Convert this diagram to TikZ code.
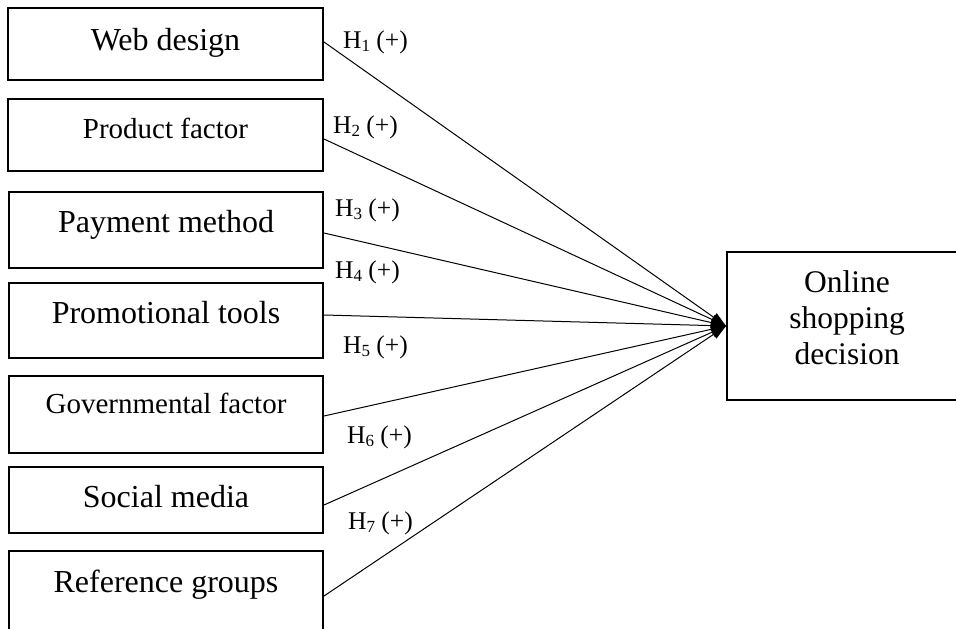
\documentclass[tikz,border=0pt]{standalone}
\usepackage{fontspec}
\setmainfont{Liberation Serif}
\usetikzlibrary{arrows.meta}
% hypothesis label: H with a lowered index, then (+)
\newcommand{\hyp}[1]{H\raisebox{-3pt}{\fontsize{17}{17}\selectfont #1} (+)}
\begin{document}
\begin{tikzpicture}[x=1pt,y=-1pt,
  box/.style={draw, line width=2pt, rectangle, inner sep=0pt},
  lbl/.style={font=\fontsize{32}{36}\selectfont, inner sep=0pt, anchor=base},
  lblsm/.style={lbl, font=\fontsize{29}{33}\selectfont},
  hyplbl/.style={font=\fontsize{25.5}{28}\selectfont, inner sep=0pt, anchor=west},
  link/.style={line width=1pt, -{Triangle[length=15pt,width=10pt]}}]
\useasboundingbox (0,0) rectangle (956,629);
\clip (0,0) rectangle (956,629);

% factor boxes
\node[box, minimum width=315pt, minimum height=72pt] (b1) at (165.5,44) {};
\node[box, minimum width=315pt, minimum height=72pt] (b2) at (165.5,135) {};
\node[box, minimum width=314pt, minimum height=76pt] (b3) at (166,230) {};
\node[box, minimum width=314pt, minimum height=75pt] (b4) at (166,320.5) {};
\node[box, minimum width=314pt, minimum height=77pt] (b5) at (166,414.5) {};
\node[box, minimum width=314pt, minimum height=66pt] (b6) at (166,500) {};
\node[box, minimum width=314pt, minimum height=94pt] (b7) at (166,598) {};

% factor names
\node[lbl]   (t1) at (165.5,50)  {Web design};
\node[lblsm] (t2) at (165.5,138) {Product factor};
\node[lbl]   (t3) at (166,232)   {Payment method};
\node[lbl]   (t4) at (166,323)   {Promotional tools};
\node[lblsm] (t5) at (166,413)   {Governmental factor};
\node[lbl]   (t6) at (166,507)   {Social media};
\node[lbl]   (t7) at (166,592)   {Reference groups};

% outcome box
\node[box, minimum width=240pt, minimum height=148pt] (tgt) at (847,326) {};
\node[lbl, font=\fontsize{31.5}{36}\selectfont] (o1) at (847,292) {Online};
\node[lbl, font=\fontsize{31.5}{36}\selectfont] (o2) at (847,328) {shopping};
\node[lbl, font=\fontsize{31.5}{36}\selectfont] (o3) at (847,364) {decision};

% paths
\draw[link] ([yshift=2pt]b1.east)   -- (tgt.west);
\draw[link] ([yshift=-4pt]b2.east)  -- (tgt.west);
\draw[link] ([yshift=-3pt]b3.east)  -- (tgt.west);
\draw[link] ([yshift=5.5pt]b4.east) -- (tgt.west);
\draw[link] ([yshift=-1.5pt]b5.east) -- (tgt.west);
\draw[link] ([yshift=-5pt]b6.east)  -- (tgt.west);
\draw[link] ([yshift=2pt]b7.east)   -- (tgt.west);

% hypothesis labels
\node[hyplbl] (h1) at (343,42)  {\hyp{1}};
\node[hyplbl] (h2) at (333,127) {\hyp{2}};
\node[hyplbl] (h3) at (335,210) {\hyp{3}};
\node[hyplbl] (h4) at (335,272) {\hyp{4}};
\node[hyplbl] (h5) at (343,347) {\hyp{5}};
\node[hyplbl] (h6) at (347,437) {\hyp{6}};
\node[hyplbl] (h7) at (348,523) {\hyp{7}};
\end{tikzpicture}
\end{document}
